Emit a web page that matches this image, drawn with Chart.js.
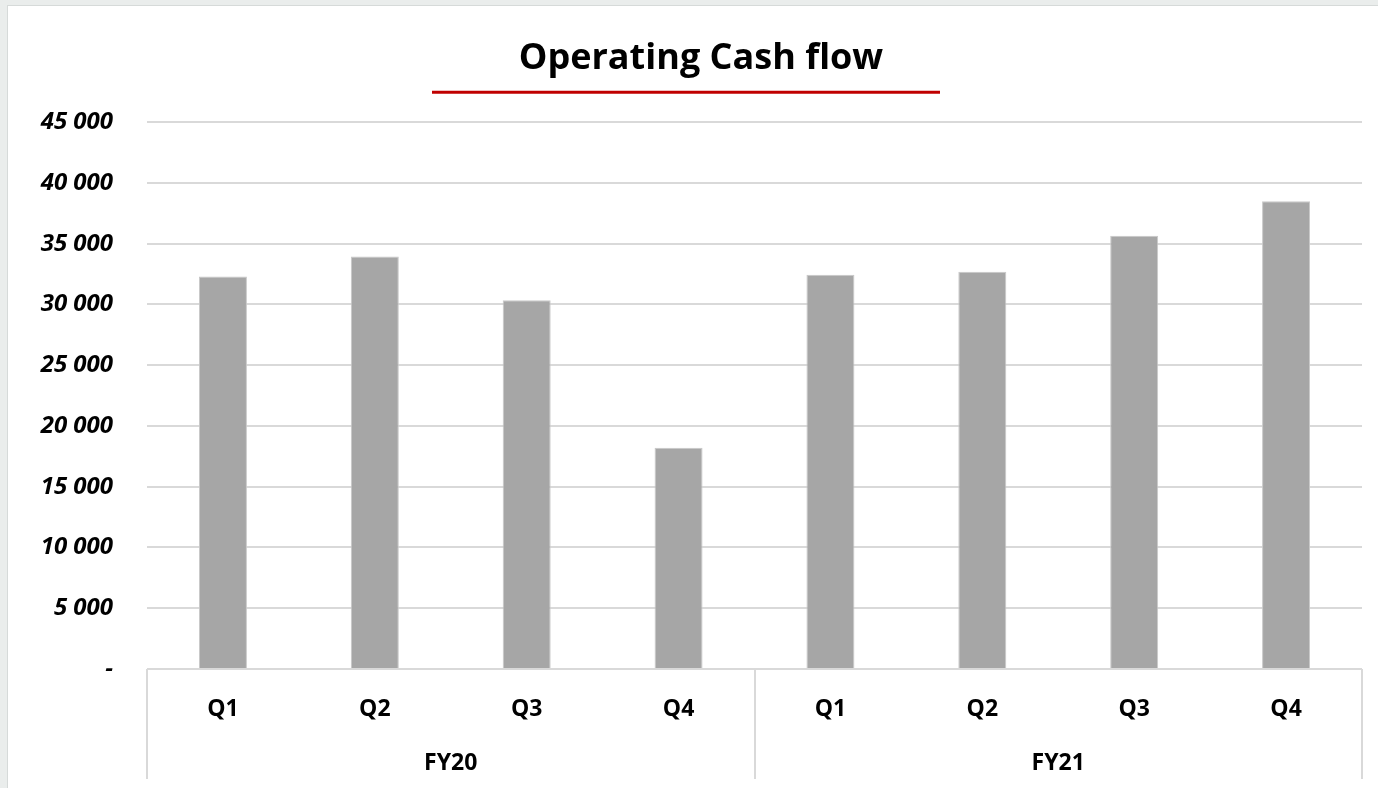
<!DOCTYPE html>
<html>
<head>
<meta charset="utf-8">
<script src="https://cdn.jsdelivr.net/npm/chart.js@4.4.1/dist/chart.umd.min.js"></script>
<style>
  html, body { margin: 0; padding: 0; background: #eaedec; overflow: hidden; }
  #frame {
    position: absolute; left: 7px; top: 5px;
    width: 1390px; height: 790px;
    background: #fff; border: 1px solid #d6dad9;
  }
  #wrap { position: absolute; left: 0; top: 0; width: 1386px; height: 782px; }
</style>
</head>
<body>
<div id="frame"><div id="wrap"><canvas id="cashChart"></canvas></div></div>
<script>
const quarters = ['Q1', 'Q2', 'Q3', 'Q4', 'Q1', 'Q2', 'Q3', 'Q4'];
const fiscalYears = ['FY20', 'FY21'];
const cashFlow = [32300, 33950, 30350, 18200, 32450, 32700, 35650, 38500];
const yTicks = [0, 5000, 10000, 15000, 20000, 25000, 30000, 35000, 40000, 45000];

const FONT = "'Open Sans', 'Liberation Sans', sans-serif";

function fmt(v) {
    if (v === 0) return '-';
    return String(v).replace(/\B(?=(\d{3})+(?!\d))/g, ' ');
}

// vertical separators of the two-level axis + red line under the title
const decorations = {
    id: 'decorations',
    afterDraw(chart) {
        const ctx = chart.ctx;
        const x = chart.scales.x;
        const area = chart.chartArea;
        ctx.save();
        ctx.strokeStyle = '#d9d9d9';
        ctx.lineWidth = 2;
        [-0.5, 3.5, 7.5].forEach((v) => {
            const px = Math.round(x.getPixelForValue(v));
            ctx.beginPath();
            ctx.moveTo(px, area.bottom);
            ctx.lineTo(px, area.bottom + 110);
            ctx.stroke();
        });
        const t = chart.titleBlock;
        const cx = (t.left + t.right) / 2;
        ctx.strokeStyle = '#c00000';
        ctx.lineWidth = 3;
        ctx.beginPath();
        ctx.moveTo(cx - 269, area.top - 30);
        ctx.lineTo(cx + 239, area.top - 30);
        ctx.stroke();
        ctx.restore();
    }
};

new Chart(document.getElementById('cashChart'), {
    type: 'bar',
    data: {
        labels: quarters,
        datasets: [{
            data: cashFlow,
            backgroundColor: '#a6a6a6',
            borderColor: '#c8c8c8',
            borderWidth: 1,
            categoryPercentage: 1,
            barPercentage: 0.316,
        }],
    },
    options: {
        responsive: true,
        maintainAspectRatio: false,
        animation: false,
        layout: { padding: 0 },
        plugins: {
            legend: { display: false },
            tooltip: { enabled: false },
            title: {
                display: true,
                text: 'Operating Cash flow',
                color: '#000',
                font: { family: FONT, size: 36, weight: 'bold' },
                padding: { top: 31, bottom: 42 },
            },
        },
        scales: {
            y: {
                min: 0,
                max: 45000,
                afterBuildTicks: (scale) => { scale.ticks = yTicks.map((v) => ({ value: v })); },
                afterFit: (scale) => { scale.width = 139; },
                border: { display: false },
                grid: { color: '#d9d9d9', lineWidth: 2, drawTicks: false },
                ticks: {
                    padding: 34,
                    color: '#000',
                    font: { family: FONT, size: 24, weight: 'bold', style: 'italic' },
                    callback: (v) => fmt(v),
                },
            },
            // empty right axis, only keeps the plot off the right edge
            yPad: {
                type: 'linear',
                position: 'right',
                border: { display: false },
                grid: { display: false },
                ticks: { display: false },
                afterFit: (scale) => { scale.width = 32; },
            },
            x: {
                offset: true,
                border: { display: false },
                grid: { display: false, offset: true },
                afterFit: (scale) => { scale.height = 54; },
                ticks: {
                    padding: 19,
                    color: '#000',
                    maxRotation: 0,
                    font: { family: FONT, size: 23, weight: 'bold' },
                },
            },
            x2: {
                type: 'category',
                position: 'bottom',
                labels: fiscalYears,
                offset: true,
                border: { display: false },
                grid: { display: false, offset: true },
                afterFit: (scale) => { scale.height = 65; },
                ticks: {
                    padding: 19,
                    color: '#000',
                    maxRotation: 0,
                    font: { family: FONT, size: 23, weight: 'bold' },
                },
            },
        },
    },
    plugins: [decorations],
});
</script>
</body>
</html>
